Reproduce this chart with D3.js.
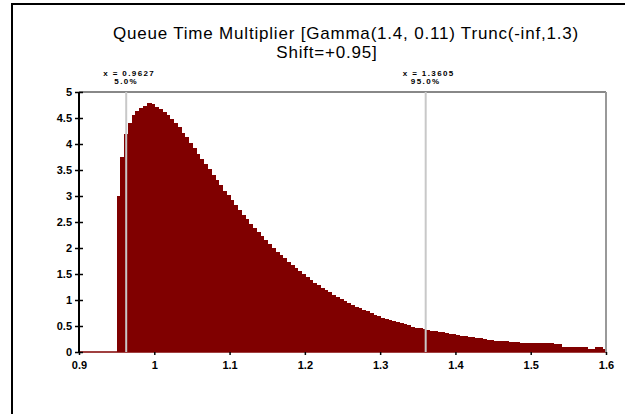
<!doctype html>
<html>
<head>
<meta charset="UTF-8">
<title>Queue Time Multiplier</title>
<script src="https://d3js.org/d3.v7.min.js"></script>
<style>
  body { margin: 0; background: #fff; }
  text { font-family: "Liberation Sans", Arial, sans-serif; }
</style>
</head>
<body>
<svg id="chart" width="625" height="414"></svg>
<script>
// histogram data: bins of width 0.005 starting at 0.95
var firstBin = 0.95;
var binWidth = 0.005;
var density = [
  3.00, 3.75, 4.20, 4.40, 4.55, 4.63, 4.70, 4.73, 4.78, 4.76, 4.71, 4.67, 4.62, 4.56, 4.49,
  4.40, 4.32, 4.21, 4.13, 4.02, 3.93, 3.81, 3.72, 3.61, 3.52, 3.40, 3.31, 3.21, 3.10, 3.02,
  2.92, 2.82, 2.74, 2.64, 2.56, 2.47, 2.39, 2.30, 2.23, 2.15, 2.08, 2.00, 1.93, 1.87, 1.80,
  1.73, 1.67, 1.61, 1.55, 1.50, 1.44, 1.39, 1.33, 1.29, 1.24, 1.19, 1.15, 1.10, 1.06, 1.02,
  0.98, 0.95, 0.91, 0.87, 0.84, 0.81, 0.78, 0.75, 0.72, 0.69, 0.66, 0.64, 0.61, 0.59, 0.57,
  0.55, 0.53, 0.51, 0.49, 0.47, 0.46, 0.44, 0.43, 0.41, 0.40, 0.39, 0.38, 0.37, 0.35, 0.34,
  0.33, 0.31, 0.30, 0.29, 0.28, 0.27, 0.26, 0.25, 0.24, 0.23, 0.22, 0.22, 0.21, 0.21, 0.20,
  0.20, 0.19, 0.18, 0.18, 0.17, 0.17, 0.17, 0.17, 0.17, 0.17, 0.17, 0.16, 0.16, 0.10, 0.09,
  0.09, 0.09, 0.09, 0.09, 0.09, 0.05, 0.05, 0.09, 0.09, 0.06
];
var xTicks = [0.9, 1.0, 1.1, 1.2, 1.3, 1.4, 1.5, 1.6];
var xTickLabels = ["0.9", "1", "1.1", "1.2", "1.3", "1.4", "1.5", "1.6"];
var yTicks = [0, 0.5, 1, 1.5, 2, 2.5, 3, 3.5, 4, 4.5, 5];
var yTickLabels = ["0", "0.5", "1", "1.5", "2", "2.5", "3", "3.5", "4", "4.5", "5"];
var markerX = [0.9627, 1.3605];
var markerLabel = ["x = 0.9627", "x = 1.3605"];
var markerPct = ["5.0%", "95.0%"];
var titleLines = ["Queue Time Multiplier [Gamma(1.4, 0.11) Trunc(-inf,1.3)", "Shift=+0.95]"];

var svg = d3.select("#chart");
var pLeft = 79, pRight = 606, pTop = 92, pBottom = 352;

var x = d3.scaleLinear().domain([0.9, 1.6]).range([pLeft, pRight]);
var y = d3.scaleLinear().domain([0, 5]).range([pBottom, pTop]);

svg.append("rect").attr("width", 625).attr("height", 414).attr("fill", "#fff");

// outer frame (left and top edges only)
svg.append("line").attr("x1", 12).attr("x2", 12).attr("y1", 4).attr("y2", 414)
  .attr("stroke", "#000").attr("stroke-width", 2);
svg.append("line").attr("x1", 11).attr("x2", 625).attr("y1", 4).attr("y2", 4)
  .attr("stroke", "#000").attr("stroke-width", 2);

// title
svg.selectAll("text.title").data(titleLines).enter().append("text")
  .attr("class", "title")
  .attr("x", function (d, i) { return i === 0 ? 346 : 327; })
  .attr("y", function (d, i) { return 39 + i * 19; })
  .attr("text-anchor", "middle")
  .attr("font-size", 17)
  .attr("letter-spacing", 0.8)
  .text(function (d) { return d; });

// bars
svg.append("g").attr("shape-rendering", "crispEdges")
  .selectAll("rect").data(density).enter().append("rect")
  .attr("x", function (d, i) { return x(firstBin + i * binWidth); })
  .attr("width", function (d, i) { return x(firstBin + (i + 1) * binWidth) - x(firstBin + i * binWidth) + 1; })
  .attr("y", function (d) { return y(d); })
  .attr("height", function (d) { return y(0) - y(d); })
  .attr("fill", "#800000");

// zero baseline of histogram
svg.append("line").attr("x1", x(0.9)).attr("x2", x(1.6)).attr("y1", y(0)).attr("y2", y(0))
  .attr("stroke", "#800000").attr("stroke-width", 1.5);

// plot frame top / right
svg.append("line").attr("x1", pLeft).attr("x2", pRight).attr("y1", pTop).attr("y2", pTop)
  .attr("stroke", "#888").attr("stroke-width", 2);
svg.append("line").attr("x1", pRight).attr("x2", pRight).attr("y1", pTop).attr("y2", pBottom)
  .attr("stroke", "#999").attr("stroke-width", 2);

// percentile markers
var mk = svg.append("g").selectAll("g").data(markerX).enter().append("g");
mk.append("line")
  .attr("x1", function (d) { return x(d); }).attr("x2", function (d) { return x(d); })
  .attr("y1", pTop).attr("y2", pBottom)
  .attr("stroke", "#c8c8c8").attr("stroke-width", 2);
mk.append("text")
  .attr("x", function (d) { return x(d) + 3; }).attr("y", 76)
  .attr("text-anchor", "middle").attr("font-size", 8).attr("font-weight", "bold")
  .attr("letter-spacing", 1.4)
  .text(function (d, i) { return markerLabel[i]; });
mk.append("text")
  .attr("x", function (d) { return x(d); }).attr("y", 84)
  .attr("text-anchor", "middle").attr("font-size", 8).attr("font-weight", "bold")
  .attr("letter-spacing", 1.4)
  .text(function (d, i) { return markerPct[i]; });

// y axis
var yAxis = d3.axisLeft(y).tickValues(yTicks).tickSize(4).tickPadding(3)
  .tickFormat(function (d, i) { return yTickLabels[i]; });
var gy = svg.append("g").attr("transform", "translate(" + pLeft + ",0)").call(yAxis);
gy.select(".domain").remove();
gy.selectAll(".tick line").attr("x1", -4).attr("x2", 4).attr("stroke", "#000").attr("stroke-width", 1.5);
gy.selectAll(".tick text").attr("font-size", 11).attr("font-weight", "bold")
  .attr("font-family", "'Liberation Sans', Arial, sans-serif").attr("fill", "#000");
svg.append("line").attr("x1", pLeft).attr("x2", pLeft).attr("y1", pTop).attr("y2", pBottom)
  .attr("stroke", "#000").attr("stroke-width", 2);

// x axis
var xAxis = d3.axisBottom(x).tickValues(xTicks).tickSize(3).tickPadding(6)
  .tickFormat(function (d, i) { return xTickLabels[i]; });
var gx = svg.append("g").attr("transform", "translate(0," + pBottom + ")").call(xAxis);
gx.select(".domain").remove();
gx.selectAll(".tick line").attr("stroke", "#000").attr("stroke-width", 1.5);
gx.selectAll(".tick text").attr("font-size", 11).attr("font-weight", "bold")
  .attr("font-family", "'Liberation Sans', Arial, sans-serif").attr("fill", "#000");
</script>
</body>
</html>
